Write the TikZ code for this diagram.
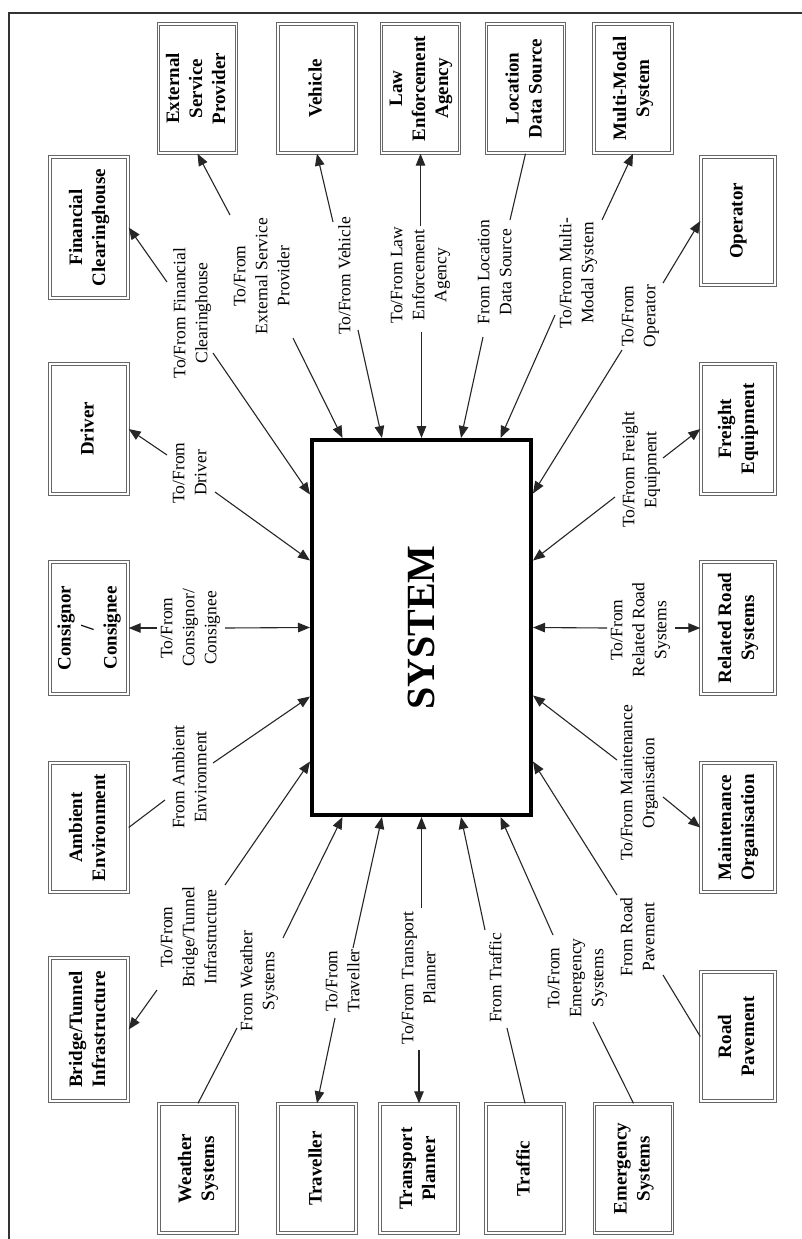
\documentclass[tikz,border=0pt]{standalone}
\usepackage{fontspec}
\setmainfont{Liberation Serif}
\usepackage{graphicx}
\usetikzlibrary{arrows.meta,calc}
\newcommand\rtxt[1]{\rotatebox{90}{\begin{tabular}{@{}c@{}}#1\end{tabular}}}
\begin{document}
\begin{tikzpicture}[x=1pt,y=-1pt,
  extbox/.style={draw=black!60, double=white, double distance=1.1pt, line width=1.4pt,
    minimum width=78pt, minimum height=129pt, inner sep=0pt, fill=white,
    font=\fontsize{19}{23}\selectfont\bfseries},
  lbl/.style={inner sep=0pt, font=\fontsize{17.5}{22}\selectfont},
  conn/.style={line width=1.1pt, draw=black!85},
  arr/.style={conn, -{Triangle[length=12pt,width=9.5pt]}},
  sysbox/.style={draw=black, line width=4pt, minimum width=219pt, minimum height=375pt,
    inner sep=0pt, font=\fontsize{40}{44}\selectfont\bfseries}]
\useasboundingbox (0,0) rectangle (802,1239);
\fill[white] (0,0) rectangle (802,1239);
\draw[line width=1.2pt, black!80] (9,1239) -- (9,13) -- (802,13);

% central system
\node[sysbox] (sys) at (421.5,627.5) {\rotatebox{90}{SYSTEM}};

% external boxes
\node[extbox] (esp) at (197.5,88.5) {\rtxt{External\\Service\\Provider}};
\node[extbox] (veh) at (317,88.5) {\rtxt{Vehicle}};
\node[extbox] (law) at (420.5,88.5) {\rtxt{Law\\Enforcement\\Agency}};
\node[extbox] (loc) at (525.5,88.5) {\rtxt{Location\\Data Source}};
\node[extbox] (mms) at (633,88.5) {\rtxt{Multi-Modal\\System}};
\node[extbox, minimum width=74pt, minimum height=128pt] (op) at (738,221) {\rtxt{Operator}};
\node[extbox, minimum height=141pt] (fin) at (89,227.5) {\rtxt{Financial\\Clearinghouse}};
\node[extbox, minimum height=130pt] (drv) at (89,429) {\rtxt{Driver}};
\node[extbox, minimum height=132pt] (cons) at (89,628) {\rtxt{Consignor\\/\\Consignee}};
\node[extbox] (amb) at (89,827.5) {\rtxt{Ambient\\Environment}};
\node[extbox, minimum height=143pt] (brid) at (89,1029.5) {\rtxt{Bridge/Tunnel\\Infrastructure}};
\node[extbox] (wea) at (198,1168.5) {\rtxt{Weather\\Systems}};
\node[extbox] (trv) at (317,1168.5) {\rtxt{Traveller}};
\node[extbox] (tp) at (419,1168.5) {\rtxt{Transport\\Planner}};
\node[extbox] (trf) at (525,1168.5) {\rtxt{Traffic}};
\node[extbox] (ems) at (633.5,1168.5) {\rtxt{Emergency\\Systems}};
\node[extbox, minimum width=74pt] (rp) at (738,1036.5) {\rtxt{Road\\Pavement}};
\node[extbox, minimum width=74pt] (mnt) at (738,827.5) {\rtxt{Maintenance\\Organisation}};
\node[extbox, minimum width=74pt, minimum height=132pt] (rrs) at (738,628) {\rtxt{Related Road\\Systems}};
\node[extbox, minimum width=74pt, minimum height=130pt] (frt) at (738,429) {\rtxt{Freight\\Equipment}};

% labels
\node[lbl] (lfin) at (192,313) {\rtxt{To/From Financial\\Clearinghouse}};
\node[lbl] (lesp) at (263,276) {\rtxt{To/From\\External Service\\Provider}};
\node[lbl] (lveh) at (346,276) {\rtxt{To/From Vehicle}};
\node[lbl] (llaw) at (420,275) {\rtxt{To/From Law\\Enforcement\\Agency}};
\node[lbl] (lloc) at (496,272) {\rtxt{From Location\\Data Source}};
\node[lbl] (lmms) at (578,273) {\rtxt{To/From Multi-\\Modal System}};
\node[lbl] (lop) at (640,316) {\rtxt{To/From\\Operator}};
\node[lbl] (ldrv) at (191,473) {\rtxt{To/From\\Driver}};
\node[lbl] (lcons) at (190,628) {\rtxt{To/From\\Consignor/\\Consignee}};
\node[lbl] (lamb) at (191,777) {\rtxt{From Ambient\\Environment}};
\node[lbl] (lbrid) at (190,937) {\rtxt{To/From\\Bridge/Tunnel\\Infrastructure}};
\node[lbl] (lwea) at (259,981) {\rtxt{From Weather\\Systems}};
\node[lbl] (ltrv) at (344,981) {\rtxt{To/From\\Traveller}};
\node[lbl] (ltp) at (420,978) {\rtxt{To/From Transport\\Planner}};
\node[lbl] (ltrf) at (497,978) {\rtxt{From Traffic}};
\node[lbl] (lems) at (577,978) {\rtxt{To/From\\Emergency\\Systems}};
\node[lbl] (lrp) at (639,937) {\rtxt{From Road\\Pavement}};
\node[lbl] (lfrt) at (641,470) {\rtxt{To/From Freight\\Equipment}};
\node[lbl] (lrrs) at (640,630) {\rtxt{To/From\\Related Road\\Systems}};
\node[lbl] (lmnt) at (639,783) {\rtxt{To/From Maintenance\\Organisation}};

% ports on the system box
\coordinate (t1) at ($(sys.north)+(-79,0)$);
\coordinate (t2) at ($(sys.north)+(-39.5,0)$);
\coordinate (t3) at (sys.north);
\coordinate (t4) at ($(sys.north)+(39.5,0)$);
\coordinate (t5) at ($(sys.north)+(79,0)$);
\coordinate (b1) at ($(sys.south)+(-79,0)$);
\coordinate (b2) at ($(sys.south)+(-39.5,0)$);
\coordinate (b3) at (sys.south);
\coordinate (b4) at ($(sys.south)+(39.5,0)$);
\coordinate (b5) at ($(sys.south)+(79,0)$);
\coordinate (l1) at ($(sys.west)+(0,-133)$);
\coordinate (l2) at ($(sys.west)+(0,-67)$);
\coordinate (l3) at (sys.west);
\coordinate (l4) at ($(sys.west)+(0,69)$);
\coordinate (l5) at ($(sys.west)+(0,134)$);
\coordinate (r1) at ($(sys.east)+(0,-134)$);
\coordinate (r2) at ($(sys.east)+(0,-67)$);
\coordinate (r3) at (sys.east);
\coordinate (r4) at ($(sys.east)+(0,68)$);
\coordinate (r5) at ($(sys.east)+(0,134)$);

% free ends next to labels
\coordinate (esp1) at (230,215);  \coordinate (esp2) at (293,338);
\coordinate (veh1) at (333,222);  \coordinate (veh2) at (358,330);
\coordinate (law1) at (420.5,226); \coordinate (law2) at (421.5,332);
\coordinate (loc1) at (510,220);  \coordinate (loc2) at (483,337);
\coordinate (mms1) at (602,220);  \coordinate (mms2) at (555,315);
\coordinate (op1) at (663,283);   \coordinate (op2) at (622,350);
\coordinate (fin1) at (167,282);  \coordinate (fin2) at (213,353);
\coordinate (drv1) at (167,455);  \coordinate (drv2) at (215,492);
\coordinate (cons1) at (157,628); \coordinate (cons2) at (225,628);
\coordinate (amb1) at (165,800);  \coordinate (amb2) at (213,763);
\coordinate (brid1) at (157,990); \coordinate (brid2) at (225,885);
\coordinate (wea1) at (237,1028); \coordinate (wea2) at (283,938);
\coordinate (trv1) at (335,1018); \coordinate (trv2) at (353,948);
\coordinate (tp1) at (419,1050);  \coordinate (tp2) at (421.5,908);
\coordinate (trf1) at (507,1028); \coordinate (trf2) at (485,930);
\coordinate (ems1) at (593,1022); \coordinate (ems2) at (553,935);
\coordinate (rp1) at (663,975);   \coordinate (rp2) at (617,895);
\coordinate (mnt1) at (663,797);  \coordinate (mnt2) at (617,760);
\coordinate (rrs1) at (675,628);  \coordinate (rrs2) at (607,628);
\coordinate (frt1) at (663,458);  \coordinate (frt2) at (615,497);

% connectors: box side
\draw[arr] (esp1) -- (esp.south);
\draw[arr] (veh1) -- (veh.south);
\draw[arr] (law1) -- (law.south);
\draw[conn] (loc.south) -- (loc1);
\draw[arr] (mms1) -- (mms.south);
\draw[arr] (op1) -- (op.west);
\draw[arr] (fin1) -- (fin.east);
\draw[arr] (drv1) -- (drv.east);
\draw[arr] (cons1) -- (cons.east);
\draw[conn] (amb.east) -- (amb1);
\draw[arr] (brid1) -- (brid.east);
\draw[conn] (wea.north) -- (wea1);
\draw[arr] (trv1) -- (trv.north);
\draw[arr] (tp1) -- (tp.north);
\draw[conn] (trf.north) -- (trf1);
\draw[conn] (ems.north) -- (ems1);
\draw[conn] (rp.west) -- (rp1);
\draw[arr] (mnt1) -- (mnt.west);
\draw[arr] (rrs1) -- (rrs.west);
\draw[arr] (frt1) -- (frt.west);

% connectors: system side
\draw[arr] (esp2) -- (t1);
\draw[arr] (veh2) -- (t2);
\draw[arr] (law2) -- (t3);
\draw[arr] (loc2) -- (t4);
\draw[arr] (mms2) -- (t5);
\draw[arr] (op2) -- (r1);
\draw[arr] (fin2) -- (l1);
\draw[arr] (drv2) -- (l2);
\draw[arr] (cons2) -- (l3);
\draw[arr] (amb2) -- (l4);
\draw[arr] (brid2) -- (l5);
\draw[arr] (wea2) -- (b1);
\draw[arr] (trv2) -- (b2);
\draw[arr] (tp2) -- (b3);
\draw[arr] (trf2) -- (b4);
\draw[arr] (ems2) -- (b5);
\draw[arr] (rp2) -- (r5);
\draw[arr] (mnt2) -- (r4);
\draw[arr] (rrs2) -- (r3);
\draw[arr] (frt2) -- (r2);
\end{tikzpicture}
\end{document}
